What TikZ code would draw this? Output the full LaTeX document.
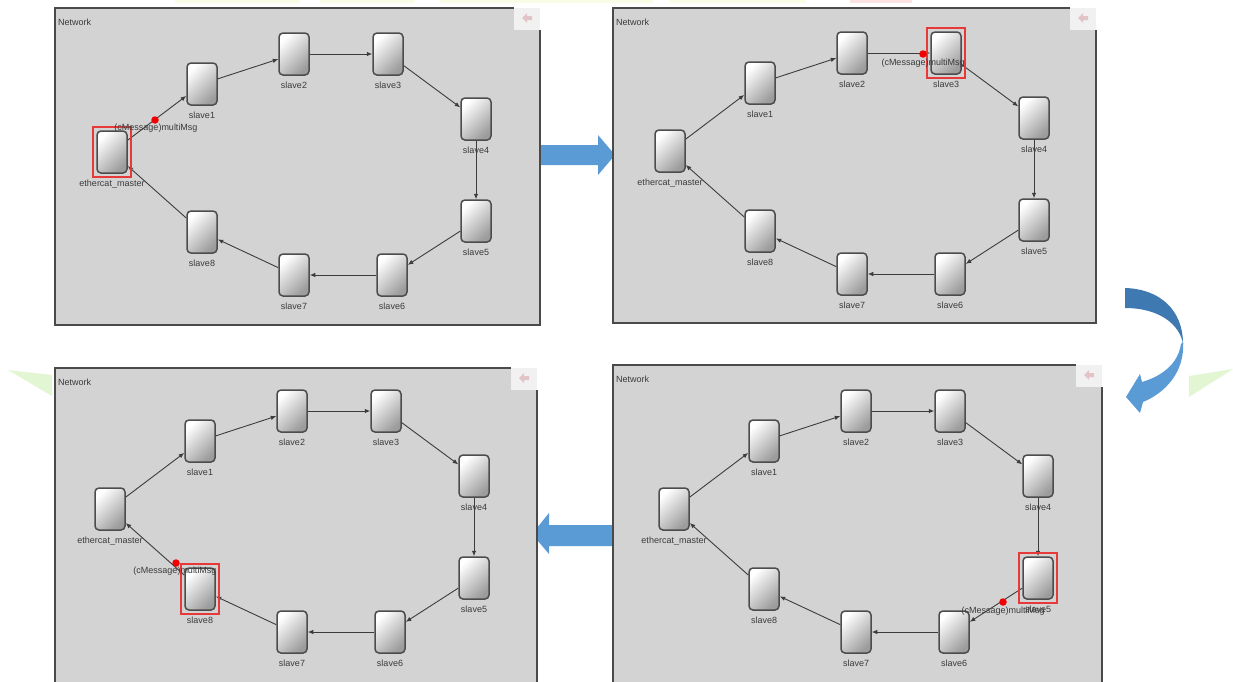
\documentclass[tikz,border=0pt]{standalone}
\usepackage{fontspec}
\setmainfont{Liberation Sans}
\usetikzlibrary{fit,arrows.meta}
\definecolor{panelgray}{HTML}{D3D3D3}
\definecolor{framec}{HTML}{4A4A4A}
\definecolor{devedge}{HTML}{4C4C4C}
\definecolor{devgray}{HTML}{9C9C9C}
\definecolor{txt}{HTML}{3A3A3A}
\definecolor{linkc}{HTML}{3C3C3C}
\definecolor{hlred}{HTML}{E8393A}
\definecolor{msgred}{HTML}{F00000}
\definecolor{bluearrow}{HTML}{5B9BD5}
\definecolor{bluedark}{HTML}{3F79B2}
\definecolor{triGreen}{HTML}{E3F6D3}
\definecolor{iconbg}{HTML}{F1F1F1}
\definecolor{iconarrow}{HTML}{E2C4C8}
\definecolor{topyellow}{HTML}{FAFDE6}
\definecolor{toppink}{HTML}{FCE2E2}
\tikzset{
  dev/.style={rectangle, rounded corners=4pt, minimum width=30pt, minimum height=42pt,
    inner sep=0pt, draw=devedge, line width=1.5pt, top color=white, bottom color=devgray, shading angle=45},
  lbl/.style={font=\fontsize{9}{10}\selectfont, text=txt, inner sep=0pt},
  link/.style={draw=linkc, line width=0.9pt, -{Latex[length=5.5pt,width=4.5pt]}},
  hl/.style={draw=hlred, line width=1.8pt, inner sep=3pt, rectangle},
  msgdot/.style={circle, fill=msgred, inner sep=0pt, minimum size=7.5pt},
  frame/.style={draw=framec, line width=1.8pt},
}
% panel frame: #1 name, #2 x0, #3 y0, #4 x1, #5 y1
\newcommand\netframe[5]{%
  \fill[panelgray] (#2,#3) rectangle (#4,#5);
  \draw[frame] (#4-26,#3) -- (#2,#3) -- (#2,#5) -- (#4,#5) -- (#4,#3+22);
  \fill[iconbg] (#4-26,#3) rectangle (#4,#3+22);
  \fill[iconarrow] (#4-18,#3+10) -- (#4-13,#3+5) -- (#4-13,#3+8) -- (#4-8,#3+8)
     -- (#4-8,#3+12) -- (#4-13,#3+12) -- (#4-13,#3+15) -- cycle;
  \node[lbl, anchor=west] (#1-title) at (#2+3,#3+14) {Network};
}
% ring of devices: #1 prefix, #2 dx, #3 dy
\newcommand\ringnet[3]{%
  \begin{scope}[shift={(#2,#3)}]
    \node[dev, label={[lbl,label distance=6pt]below:ethercat\_master}] (#1-m) at (112,152) {};
    \node[dev, label={[lbl,label distance=6pt]below:slave1}] (#1-1) at (202,84) {};
    \node[dev, label={[lbl,label distance=6pt]below:slave2}] (#1-2) at (294,54) {};
    \node[dev, label={[lbl,label distance=6pt]below:slave3}] (#1-3) at (388,54) {};
    \node[dev, label={[lbl,label distance=6pt]below:slave4}] (#1-4) at (476,119) {};
    \node[dev, label={[lbl,label distance=6pt]below:slave5}] (#1-5) at (476,221) {};
    \node[dev, label={[lbl,label distance=6pt]below:slave6}] (#1-6) at (392,275) {};
    \node[dev, label={[lbl,label distance=6pt]below:slave7}] (#1-7) at (294,275) {};
    \node[dev, label={[lbl,label distance=6pt]below:slave8}] (#1-8) at (202,232) {};
  \end{scope}
  \draw[link] (#1-m) -- (#1-1);
  \draw[link] (#1-1) -- (#1-2);
  \draw[link] (#1-2) -- (#1-3);
  \draw[link] (#1-3) -- (#1-4);
  \draw[link] (#1-4) -- (#1-5);
  \draw[link] (#1-5) -- (#1-6);
  \draw[link] (#1-6) -- (#1-7);
  \draw[link] (#1-7) -- (#1-8);
  \draw[link] (#1-8) -- (#1-m);
}
\begin{document}
\begin{tikzpicture}[x=1pt,y=-1pt]
\useasboundingbox[fill=white] (0,0) rectangle (1233,681);
% faint strips at top edge
\fill[topyellow] (175,0) rectangle (300,3);
\fill[topyellow] (320,0) rectangle (415,3);
\fill[topyellow] (440,0) rectangle (653,3);
\fill[topyellow] (670,0) rectangle (806,3);
\fill[toppink] (850,0) rectangle (912,3);
% green triangles
\fill[triGreen] (8,370) -- (52,375) -- (52,396) -- cycle;
\fill[triGreen] (1189,376) -- (1233,369) -- (1189,397) -- cycle;
% big arrows
\fill[bluearrow] (540,145) -- (598,145) -- (598,135) -- (615,155) -- (598,175) -- (598,165) -- (540,165) -- cycle;
\fill[bluearrow] (615,525) -- (549,525) -- (549,513) -- (532,534) -- (549,554) -- (549,546) -- (615,546) -- cycle;
% curved arrow
\fill[bluedark] (1125,288) .. controls (1160,289) and (1183,310) .. (1183,344)
   .. controls (1180,325) and (1160,308) .. (1125,308) -- cycle;
\fill[bluearrow] (1183,342) .. controls (1185,372) and (1165,393) .. (1143,402)
   -- (1140,413) -- (1126,397) -- (1140,374) -- (1142,382)
   .. controls (1162,376) and (1178,364) .. (1181,344) -- cycle;
% panels
\netframe{pa}{55}{8}{540}{325}
\netframe{pb}{613}{8}{1096}{323}
\netframe{pc}{55}{368}{537}{684}
\netframe{pd}{613}{365}{1102}{684}
\ringnet{a}{0}{0}
\ringnet{b}{558}{-1}
\ringnet{c}{-2}{357}
\ringnet{d}{562}{357}
% highlights and messages
\node[hl, fit=(a-m)] (a-hl) {};
\node[msgdot] (a-msg) at (155,120) {};
\node[lbl] (a-msgl) at (156,128) {(cMessage)multiMsg};
\node[hl, fit=(b-3)] (b-hl) {};
\node[msgdot] (b-msg) at (923,54) {};
\node[lbl] (b-msgl) at (923,63) {(cMessage)multiMsg};
\node[hl, fit=(c-8)] (c-hl) {};
\node[msgdot] (c-msg) at (176,563) {};
\node[lbl] (c-msgl) at (175,571) {(cMessage)multiMsg};
\node[hl, fit=(d-5)] (d-hl) {};
\node[msgdot] (d-msg) at (1003,602) {};
\node[lbl] (d-msgl) at (1003,611) {(cMessage)multiMsg};
\end{tikzpicture}
\end{document}
